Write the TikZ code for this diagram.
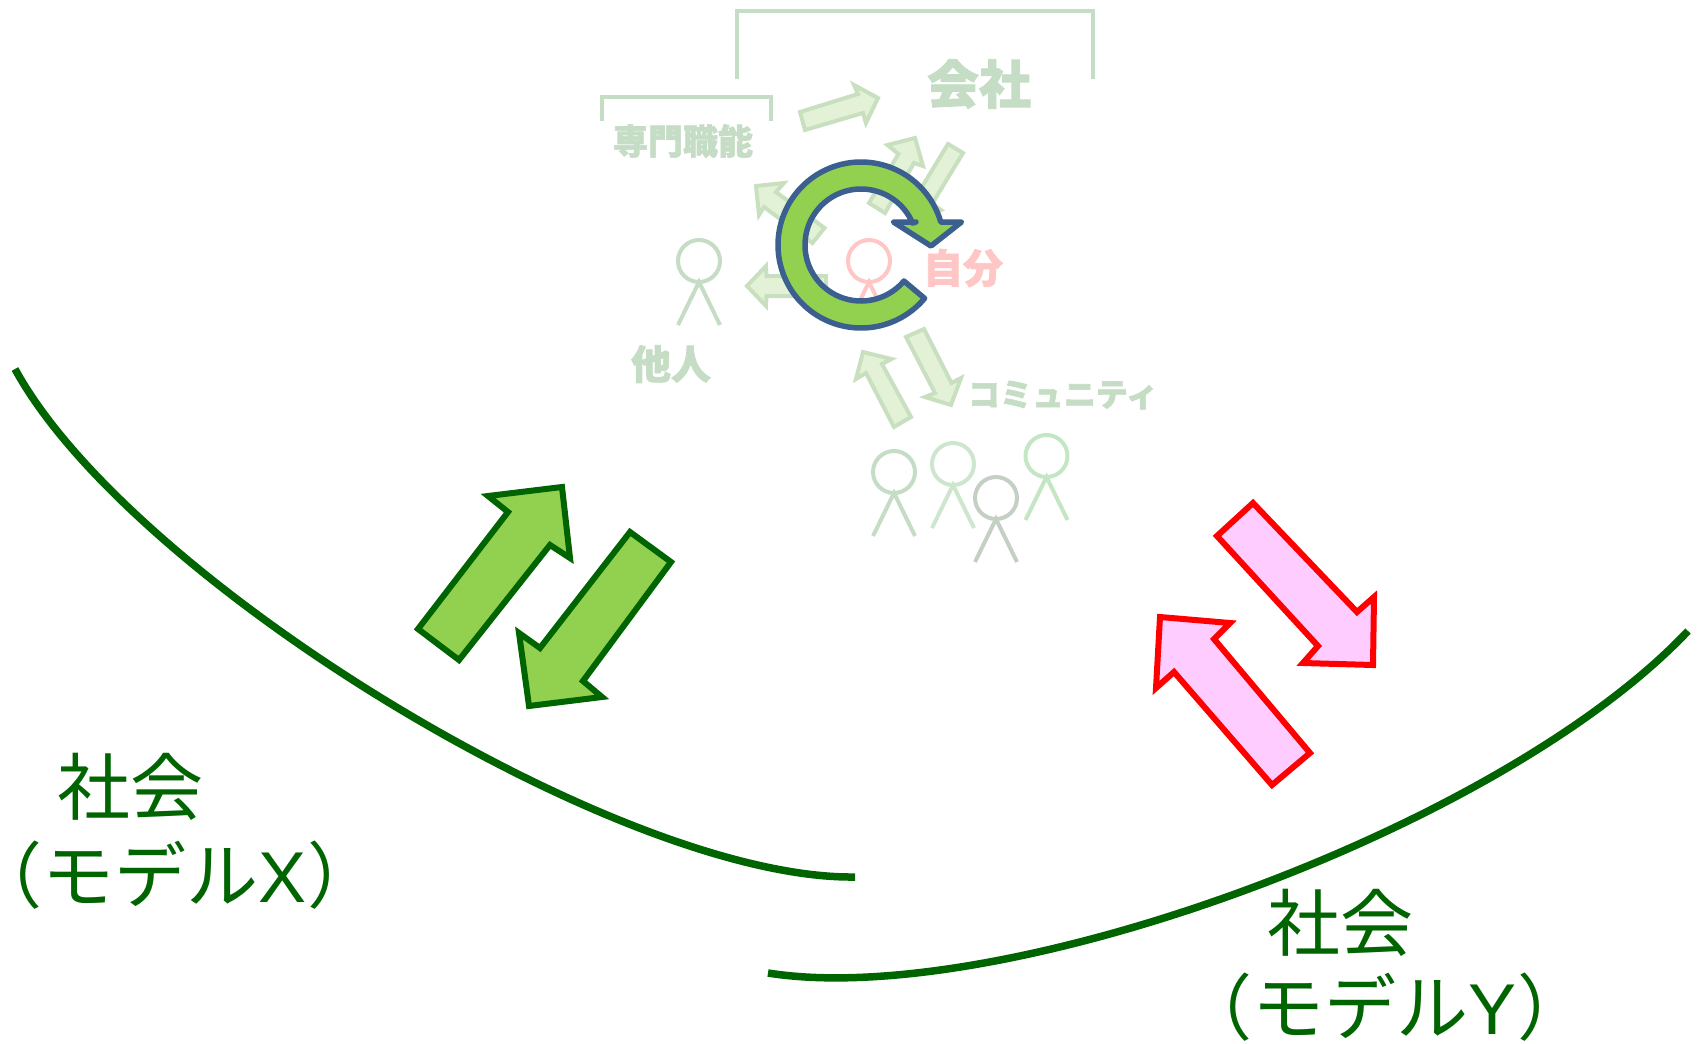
\documentclass[tikz,border=0pt]{standalone}
\usepackage{fontspec}
\newfontfamily\cjk[BoldFeatures={FakeBold=1.7}]{Noto Sans CJK JP}
\newfontfamily\latn{Liberation Sans}
\definecolor{dgreen}{HTML}{006400}
\definecolor{lgreen}{HTML}{92D14F}
\definecolor{pinkfill}{HTML}{FFCCFF}
\definecolor{navy}{HTML}{3B5F8F}
\definecolor{paleline}{HTML}{C5DCC5}
\definecolor{palefill}{HTML}{E3F2D6}
\definecolor{paleborder}{HTML}{C8E0C0}
\definecolor{palered}{HTML}{FFC6C6}
\definecolor{paleb}{HTML}{CEE6CE}
\definecolor{palec}{HTML}{C5D0C5}
\definecolor{paled}{HTML}{C3E6C3}
\tikzset{
  bigtext/.style={font=\cjk\fontsize{72}{72}\selectfont,text=dgreen,inner sep=0pt},
  soctext/.style={font=\cjk\fontsize{73}{73}\selectfont,text=dgreen,inner sep=0pt},
  fadetext/.style={text=paleline,inner sep=0pt},
  greenarrow/.style={draw=dgreen,fill=lgreen,line width=6pt,miter limit=10},
  pinkarrow/.style={draw=red,fill=pinkfill,line width=6pt,miter limit=10},
  fadearrow/.style={draw=paleborder,fill=palefill,line width=4pt},
  bracket/.style={draw=paleline,line width=4.5pt},
  curveline/.style={draw=dgreen,line width=7.5pt},
  person/.style={line width=4pt,draw=#1}
}
\newcommand{\stick}[3]{%
  \draw[person=#3] (#1,#2) circle [radius=21pt];
  \draw[person=#3] (#1-21,#2+64) -- (#1,#2+21) -- (#1+21,#2+64);}
\begin{document}
\begin{tikzpicture}[x=1pt,y=-1pt]
\useasboundingbox (0,0) rectangle (1701,1044);
% brackets
\draw[bracket] (737,79) -- (737,11) -- (1093,11) -- (1093,79);
\draw[bracket] (602,121) -- (602,97) -- (771,97) -- (771,121);
% pale labels
\node[fadetext,font=\cjk\bfseries\fontsize{52}{52}\selectfont] (company) at (979,84) {会社};
\node[fadetext,font=\cjk\bfseries\fontsize{35}{35}\selectfont] (skill) at (683,141) {専門職能};
\node[fadetext,font=\cjk\bfseries\fontsize{40}{40}\selectfont,text=palered] (self) at (963,268) {自分};
\node[fadetext,font=\cjk\bfseries\fontsize{40}{40}\selectfont] (other) at (671,364) {他人};
\node[fadetext,font=\cjk\bfseries\fontsize{32}{32}\selectfont] (community) at (1063,395) {コミュニティ};
% pale arrows
\draw[fadearrow] (800,112) -- (858,94) -- (854,85) -- (878,98) -- (866,123) -- (863,113) -- (805,130) -- cycle;
\draw[fadearrow] (869,203) -- (885,213) -- (914,163) -- (923,166) -- (915,138) -- (887.5,145) -- (898.5,154) -- cycle;
\draw[fadearrow] (948,144) -- (963,153) -- (932,204) -- (941,210) -- (913,222) -- (908,190) -- (917,195) -- cycle;
\draw[fadearrow] (756,186) -- (784,183) -- (776,192) -- (824.5,228) -- (812.4,243) -- (764,207) -- (759,215) -- cycle;
\draw[fadearrow] (747,286) -- (766,266) -- (766.5,276) -- (826,276) -- (826,296) -- (766.5,296) -- (766,306) -- cycle;
\draw[fadearrow] (863,352) -- (891.5,359) -- (882,364) -- (911,417) -- (894,427) -- (866,373) -- (856,379) -- cycle;
\draw[fadearrow] (906,337) -- (924,329) -- (951.5,383) -- (961,378) -- (951,405) -- (925,397) -- (935,393) -- cycle;
% stick figures
\stick{699}{261}{paleline}
\stick{869}{261}{palered}
\stick{894}{472}{paleline}
\stick{953}{464}{paleb}
\stick{996}{498}{palec}
\stick{1046.5}{456}{paled}
% circular arrow
\draw[draw=navy,fill=lgreen,line width=5.5pt,line join=round]
  plot[domain=40:344,samples=150] ({861+83*cos(\x)},{245+83*sin(\x)})
  -- (961.5,222) -- (931,246) -- (893.4,222) -- (916,222)
  -- plot[domain=337:40,samples=150] ({861+56*cos(\x)},{245+56*sin(\x)}) -- cycle;
% big arrows
\draw[greenarrow] (418,629) -- (459,660) -- (550,545) -- (570,558) -- (562,487) -- (488,496) -- (508,512) -- cycle;
\draw[greenarrow] (630,532) -- (671,562) -- (583,681) -- (602,697) -- (529,706) -- (519,633) -- (540,648) -- cycle;
\draw[pinkarrow] (1253,503) -- (1217,536) -- (1318,646) -- (1303,663) -- (1373,665) -- (1374,597) -- (1357,612) -- cycle;
\draw[pinkarrow] (1160,617) -- (1230,623) -- (1214,639) -- (1310,753) -- (1272,785) -- (1174,672) -- (1156,688) -- cycle;
% society curves
\draw[curveline] (15,369) .. controls (130,580) and (620,880) .. (855,877);
\draw[curveline] (768,973) .. controls (1000,1010) and (1500,830) .. (1688,631);
% labels
\node[soctext] (socx) at (130,787) {社会};
\node[bigtext] (modelx) at (175,875) {\kern-36pt（モデル{\latn X}）\kern-36pt};
\node[soctext] (socy) at (1340,923) {社会};
\node[bigtext,anchor=base] (modely) at (1385,1034) {（モデル{\latn Y}）};
\end{tikzpicture}
\end{document}
